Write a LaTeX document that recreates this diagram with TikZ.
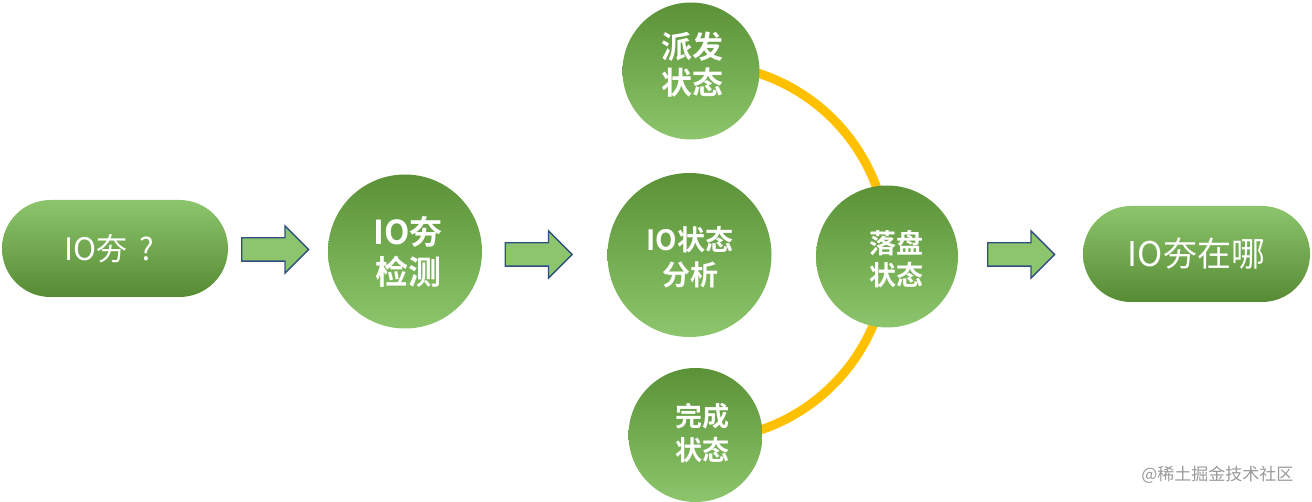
\documentclass[tikz,border=0pt]{standalone}
\usepackage{fontspec}
\usetikzlibrary{shapes.arrows,shapes.misc}
\newfontfamily\cjk{Noto Sans CJK SC}
\newfontfamily\cjkb{Noto Sans CJK SC Bold}
\definecolor{gdark}{HTML}{5B9237}
\definecolor{glight}{HTML}{8CC56B}
\definecolor{arrfill}{HTML}{8DC56C}
\definecolor{arrline}{HTML}{2F4F80}
\definecolor{arcy}{HTML}{FFC000}
\tikzset{
  x=1pt,y=1pt,
  circ/.style={circle,minimum size=#1,inner sep=0,top color=gdark,bottom color=glight},
  ctext/.style 2 args={text=white,align=center,inner sep=0,font=\cjkb\fontsize{#1}{#2}\selectfont},
  pill/.style={rounded rectangle,minimum width=226,minimum height=97,inner sep=0,
    top color=glight,bottom color=gdark!95!black,text=white},
  flowarrow/.style={single arrow,draw=arrline,line width=1.3pt,fill=arrfill,anchor=tail,
    inner xsep=0,inner ysep=11,minimum height=67,single arrow head extend=12,single arrow head indent=0},
  arcline/.style={draw=arcy,line width=9}
}
\begin{document}
\begin{tikzpicture}
\useasboundingbox (0,0) rectangle (1312,-502);
% yellow arc behind circles
\coordinate (hub) at (700,-252);
\draw[arcline] ([shift={(78:188)}]hub) arc[start angle=78,end angle=-78,radius=188];
% start pill
\node[pill] (q) at (115,-248.5) {};
\node[text=white,inner sep=0,font=\cjk\fontsize{31}{36}\selectfont] (qt) at (109,-249) {IO夯\hspace{12pt}?};
\node[flowarrow] (a1) at (241,-249.5) {};
% detection
\node[circ=154] (det) at (405,-251.5) {};
\node[ctext={33}{40}] (dett) at (408,-252) {IO夯\\检测};
\node[flowarrow] (a2) at (504.5,-254.5) {};
% analysis
\node[circ=164] (ana) at (689.5,-255) {};
\node[ctext={28}{35}] (anat) at (690,-257) {IO状态\\分析};
% states
\node[circ=137] (pf) at (691,-71) {};
\node[ctext={31}{36}] (pft) at (692,-65) {派发\\状态};
\node[circ=142] (lp) at (887,-256.5) {};
\node[ctext={27}{32}] (lpt) at (896,-259) {落盘\\状态};
\node[circ=134] (wc) at (695.5,-435) {};
\node[ctext={27}{34}] (wct) at (702,-433) {完成\\状态};
\node[flowarrow] (a3) at (987,-254.5) {};
% end pill
\node[pill,minimum width=227,minimum height=96,font=\cjk\fontsize{34}{40}\selectfont] (w) at (1196.5,-254) {IO夯在哪};
\node[anchor=east,text=black!40,font=\cjk\fontsize{17}{20}\selectfont] (wm) at (1297,-475) {@稀土掘金技术社区};
\end{tikzpicture}
\end{document}
